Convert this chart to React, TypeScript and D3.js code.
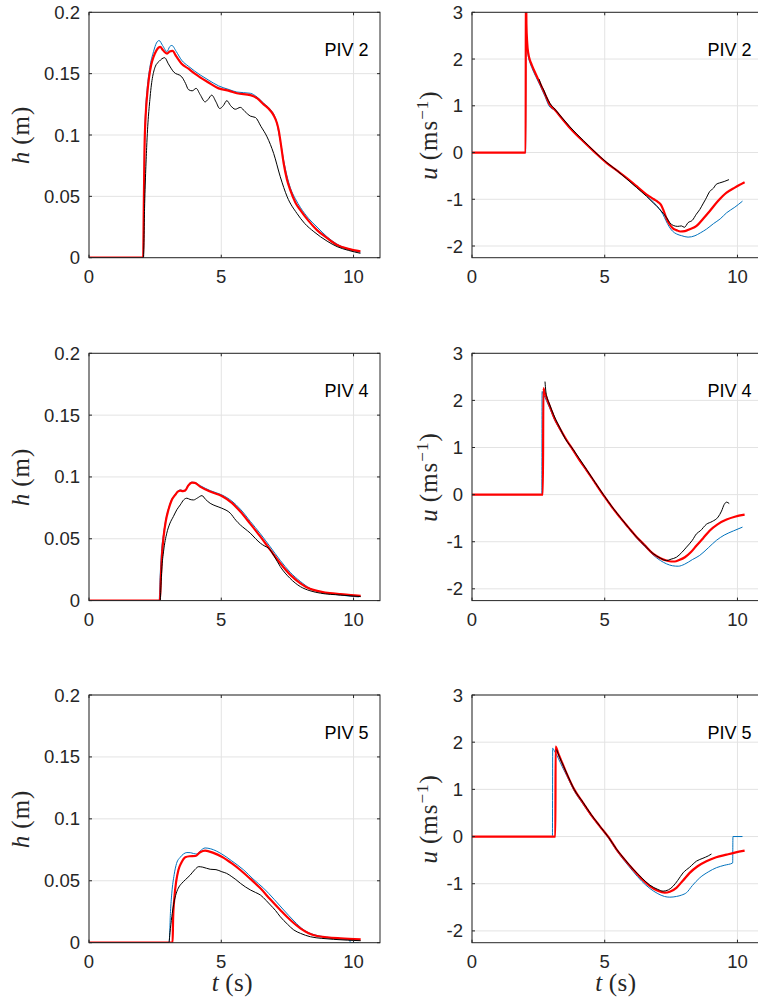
import React from "react";
import * as d3 from "d3";

type P = [number, number];

// ---------- data: PIV 2 ----------
const h2Red: P[] = [[0,0],[2.05,0],[2.07,0.04],[2.1,0.09],[2.14,0.115],[2.2,0.133],[2.27,0.147],[2.35,0.157],[2.44,0.1636],[2.55,0.169],[2.69,0.1718],[2.8,0.169],[2.95,0.1664],[3.05,0.168],[3.16,0.1685],[3.3,0.164],[3.5,0.158],[3.76,0.154],[4.0,0.15],[4.2,0.147],[4.5,0.143],[4.9,0.138],[5.3,0.136],[5.59,0.134],[6.1,0.1325],[6.35,0.13],[6.6,0.125],[6.85,0.12],[6.98,0.116],[7.1,0.11],[7.17,0.104],[7.25,0.093],[7.36,0.0768],[7.48,0.064],[7.61,0.055],[7.8,0.045],[7.99,0.0388],[8.3,0.03],[8.62,0.0225],[9.0,0.016],[9.38,0.0103],[9.8,0.0072],[10.26,0.0052]];
const h2Blue: P[] = [[0,0],[2.05,0],[2.07,0.045],[2.1,0.095],[2.14,0.12],[2.2,0.138],[2.3,0.155],[2.44,0.168],[2.55,0.175],[2.65,0.177],[2.78,0.173],[2.95,0.168],[3.05,0.172],[3.13,0.173],[3.3,0.168],[3.5,0.161],[3.76,0.156],[4.0,0.152],[4.2,0.149],[4.5,0.145],[4.9,0.14],[5.3,0.137],[5.59,0.135],[6.1,0.134],[6.35,0.131],[6.6,0.126],[6.85,0.121],[6.98,0.117],[7.1,0.11],[7.17,0.102],[7.25,0.093],[7.36,0.079],[7.48,0.067],[7.61,0.057],[7.8,0.048],[7.99,0.041],[8.3,0.032],[8.62,0.025],[9.0,0.017],[9.38,0.011],[9.8,0.007],[10.26,0.0045]];
const h2Black: P[] = [[0,0],[2.06,0],[2.1,0.04],[2.18,0.09],[2.31,0.131],[2.5,0.1555],[2.65,0.16],[2.86,0.163],[3.0,0.158],[3.2,0.1514],[3.51,0.1473],[3.65,0.142],[3.76,0.137],[3.9,0.136],[4.05,0.138],[4.2,0.133],[4.39,0.127],[4.5,0.129],[4.64,0.1325],[4.8,0.127],[4.94,0.1216],[5.08,0.124],[5.21,0.128],[5.35,0.124],[5.53,0.121],[5.72,0.1225],[5.9,0.119],[6.1,0.1154],[6.29,0.1143],[6.5,0.107],[6.73,0.0985],[6.98,0.085],[7.23,0.066],[7.49,0.0497],[7.86,0.0361],[8.15,0.028],[8.5,0.0212],[9.0,0.0135],[9.38,0.009],[9.8,0.006],[10.26,0.0036]];
const u2Red: P[] = [[0,0],[2.02,0],[2.03,4],[2.05,2.75],[2.08,2.34],[2.12,2.125],[2.18,1.98],[2.25,1.876],[2.4,1.68],[2.56,1.486],[2.75,1.25],[2.94,1.02],[3.12,0.916],[3.4,0.72],[3.69,0.526],[4.19,0.24],[4.6,0.02],[5.07,-0.22],[5.45,-0.38],[5.82,-0.54],[6.2,-0.72],[6.58,-0.9],[6.85,-1.0],[7.01,-1.06],[7.12,-1.12],[7.2,-1.217],[7.32,-1.4],[7.45,-1.54],[7.58,-1.63],[7.7,-1.66],[7.85,-1.69],[8.02,-1.68],[8.2,-1.64],[8.46,-1.57],[8.7,-1.42],[8.96,-1.25],[9.25,-1.05],[9.59,-0.86],[9.9,-0.75],[10.27,-0.635]];
const u2Blue: P[] = [[0,0],[2.02,0],[2.03,4],[2.05,2.65],[2.08,2.25],[2.12,2.06],[2.18,1.93],[2.25,1.82],[2.4,1.63],[2.56,1.44],[2.75,1.2],[2.9,1.0],[3.12,0.9],[3.4,0.71],[3.69,0.52],[4.19,0.235],[4.6,0.015],[5.07,-0.22],[5.45,-0.39],[5.82,-0.55],[6.2,-0.73],[6.58,-0.92],[6.85,-1.07],[7.05,-1.2],[7.2,-1.33],[7.3,-1.45],[7.42,-1.58],[7.55,-1.68],[7.7,-1.74],[7.9,-1.78],[8.14,-1.81],[8.4,-1.78],[8.6,-1.72],[8.83,-1.64],[9.1,-1.52],[9.35,-1.42],[9.59,-1.29],[9.9,-1.17],[10.19,-1.04]];
const u2Black: P[] = [[2.53,1.57],[2.6,1.45],[2.7,1.34],[2.8,1.2],[2.94,1.05],[3.12,0.93],[3.4,0.74],[3.69,0.55],[4.19,0.26],[4.6,0.03],[5.07,-0.21],[5.45,-0.38],[5.82,-0.56],[6.2,-0.75],[6.58,-0.94],[6.85,-1.09],[7.05,-1.2],[7.2,-1.3],[7.33,-1.39],[7.45,-1.5],[7.58,-1.56],[7.75,-1.58],[7.89,-1.57],[8.0,-1.6],[8.14,-1.5],[8.3,-1.45],[8.45,-1.32],[8.58,-1.22],[8.7,-1.1],[8.8,-1.0],[8.96,-0.83],[9.1,-0.76],[9.2,-0.68],[9.33,-0.65],[9.5,-0.62],[9.68,-0.58]];

// ---------- data: PIV 4 ----------
const h4Red: P[] = [[0,0],[2.68,0],[2.72,0.02],[2.77,0.04],[2.82,0.0517],[2.9,0.064],[3.0,0.0733],[3.12,0.081],[3.26,0.0855],[3.35,0.088],[3.45,0.089],[3.55,0.0885],[3.64,0.089],[3.75,0.093],[3.89,0.0954],[4.0,0.0952],[4.2,0.0922],[4.6,0.088],[5.02,0.0846],[5.4,0.079],[5.72,0.072],[6.1,0.062],[6.48,0.0517],[6.85,0.041],[7.23,0.0302],[7.6,0.021],[7.99,0.014],[8.35,0.0095],[8.75,0.0073],[9.1,0.006],[9.51,0.0052],[9.9,0.0045],[10.27,0.0038]];
const h4Blue: P[] = [[0,0],[2.65,0],[2.69,0.02],[2.75,0.042],[2.82,0.054],[2.9,0.065],[3.0,0.074],[3.12,0.0815],[3.26,0.086],[3.35,0.0885],[3.45,0.0895],[3.55,0.089],[3.64,0.0895],[3.75,0.0935],[3.89,0.0958],[4.0,0.0955],[4.2,0.093],[4.6,0.0888],[5.02,0.0855],[5.4,0.0805],[5.72,0.074],[6.1,0.064],[6.48,0.054],[6.85,0.0435],[7.23,0.0325],[7.6,0.023],[7.99,0.0155],[8.35,0.01],[8.75,0.007],[9.1,0.0055],[9.51,0.0045],[9.9,0.0035],[10.2,0.003]];
const h4Black: P[] = [[0,0],[2.69,0],[2.72,0.012],[2.75,0.0248],[2.82,0.04],[2.94,0.0545],[3.05,0.062],[3.19,0.068],[3.32,0.0735],[3.45,0.0774],[3.58,0.0815],[3.7,0.0828],[3.82,0.0818],[3.95,0.0814],[4.1,0.083],[4.27,0.0849],[4.4,0.082],[4.58,0.0787],[4.8,0.0765],[5.02,0.0747],[5.34,0.0707],[5.55,0.065],[5.72,0.0612],[5.9,0.058],[6.1,0.0545],[6.3,0.05],[6.48,0.0464],[6.65,0.044],[6.79,0.0424],[7.0,0.036],[7.23,0.0275],[7.6,0.018],[7.99,0.0113],[8.35,0.008],[8.75,0.006],[9.5,0.0045],[10.27,0.0032]];
const u4Red: P[] = [[0,0],[2.67,0],[2.69,2.26],[2.72,2.2],[2.8,2.07],[2.94,1.864],[3.1,1.63],[3.31,1.404],[3.55,1.17],[3.81,0.943],[4.05,0.73],[4.32,0.517],[4.65,0.24],[5.0,-0.05],[5.28,-0.27],[5.57,-0.477],[5.9,-0.7],[6.2,-0.9],[6.5,-1.07],[6.82,-1.255],[7.1,-1.35],[7.33,-1.4],[7.5,-1.42],[7.64,-1.42],[7.8,-1.39],[8.02,-1.33],[8.25,-1.22],[8.46,-1.08],[8.7,-0.93],[8.96,-0.76],[9.25,-0.63],[9.59,-0.53],[9.9,-0.47],[10.27,-0.426]];
const u4Blue: P[] = [[0,0],[2.63,0],[2.64,2.19],[2.7,2.12],[2.8,2.0],[2.94,1.82],[3.1,1.6],[3.31,1.38],[3.55,1.15],[3.81,0.93],[4.05,0.72],[4.32,0.5],[4.65,0.23],[5.0,-0.06],[5.28,-0.28],[5.57,-0.49],[5.9,-0.72],[6.2,-0.92],[6.5,-1.1],[6.82,-1.28],[7.1,-1.4],[7.33,-1.47],[7.55,-1.51],[7.77,-1.52],[8.0,-1.48],[8.3,-1.38],[8.58,-1.29],[8.9,-1.13],[9.21,-0.97],[9.5,-0.86],[9.85,-0.77],[10.19,-0.69]];
const u4Black: P[] = [[2.75,2.4],[2.78,2.2],[2.82,2.08],[2.9,1.95],[3.0,1.8],[3.15,1.6],[3.31,1.42],[3.5,1.2],[3.81,0.96],[4.05,0.76],[4.32,0.53],[4.65,0.25],[5.0,-0.04],[5.28,-0.26],[5.57,-0.47],[5.9,-0.7],[6.2,-0.9],[6.5,-1.07],[6.82,-1.25],[7.1,-1.35],[7.33,-1.4],[7.5,-1.37],[7.7,-1.33],[7.9,-1.23],[8.08,-1.115],[8.3,-0.97],[8.46,-0.83],[8.6,-0.77],[8.83,-0.63],[9.05,-0.57],[9.27,-0.477],[9.4,-0.35],[9.5,-0.21],[9.59,-0.16],[9.69,-0.19]];

// ---------- data: PIV 5 ----------
const h5Red: P[] = [[0,0],[3.16,0],[3.18,0.02],[3.22,0.0345],[3.3,0.05],[3.38,0.0587],[3.5,0.065],[3.64,0.069],[3.8,0.0698],[4.02,0.07],[4.2,0.073],[4.39,0.0743],[4.7,0.0725],[5.02,0.0694],[5.4,0.064],[5.72,0.0587],[6.1,0.0515],[6.48,0.0439],[6.85,0.035],[7.23,0.0264],[7.6,0.0185],[7.99,0.0116],[8.3,0.0077],[8.62,0.0054],[9.0,0.0043],[9.51,0.0035],[10.27,0.0027]];
const h5Blue: P[] = [[0,0],[3.03,0],[3.08,0.025],[3.13,0.04],[3.22,0.055],[3.31,0.064],[3.45,0.069],[3.57,0.0716],[3.7,0.0728],[3.83,0.0727],[3.95,0.072],[4.08,0.0716],[4.2,0.074],[4.39,0.0765],[4.6,0.0758],[5.02,0.0716],[5.4,0.066],[5.85,0.0587],[6.2,0.0515],[6.6,0.044],[7.0,0.035],[7.36,0.0264],[7.75,0.0175],[8.12,0.0103],[8.5,0.0065],[8.88,0.0048],[9.3,0.0035],[9.85,0.0025],[9.88,0],[10.2,0]];
const h5Black: P[] = [[0,0],[3.02,0],[3.06,0.008],[3.13,0.021],[3.2,0.031],[3.3,0.04],[3.4,0.045],[3.51,0.048],[3.65,0.051],[3.83,0.0547],[4.0,0.059],[4.15,0.0614],[4.3,0.061],[4.58,0.0593],[4.8,0.059],[5.02,0.0573],[5.2,0.056],[5.4,0.0533],[5.55,0.051],[5.72,0.048],[6.1,0.0426],[6.3,0.0405],[6.48,0.0385],[6.7,0.034],[6.86,0.0304],[7.05,0.026],[7.23,0.021],[7.5,0.015],[7.74,0.0103],[8.0,0.0075],[8.37,0.0048],[8.8,0.0035],[9.25,0.0027],[10.27,0.0016]];
const u5Red: P[] = [[0,0],[3.14,0],[3.15,1.907],[3.25,1.76],[3.4,1.56],[3.56,1.345],[3.85,1.0],[4.19,0.71],[4.5,0.45],[4.82,0.217],[5.15,-0.02],[5.45,-0.276],[5.75,-0.49],[6.07,-0.7],[6.4,-0.9],[6.7,-1.05],[7.0,-1.15],[7.26,-1.19],[7.45,-1.17],[7.7,-1.087],[7.95,-0.93],[8.2,-0.77],[8.5,-0.63],[8.83,-0.524],[9.2,-0.44],[9.59,-0.383],[9.9,-0.34],[10.27,-0.298]];
const u5Blue: P[] = [[0,0],[3.03,0],[3.04,1.87],[3.1,1.82],[3.25,1.66],[3.4,1.48],[3.56,1.3],[3.85,0.97],[4.19,0.68],[4.5,0.43],[4.82,0.2],[5.15,-0.04],[5.45,-0.3],[5.75,-0.52],[6.07,-0.74],[6.4,-0.95],[6.7,-1.1],[7.0,-1.21],[7.25,-1.27],[7.45,-1.285],[7.7,-1.27],[7.9,-1.24],[8.08,-1.19],[8.3,-1.04],[8.58,-0.875],[8.9,-0.75],[9.21,-0.66],[9.5,-0.61],[9.82,-0.56],[9.83,0],[10.19,0]];
const u5Black: P[] = [[3.19,1.84],[3.3,1.68],[3.45,1.49],[3.6,1.3],[3.85,1.0],[4.19,0.72],[4.5,0.46],[4.82,0.22],[5.15,-0.02],[5.45,-0.27],[5.75,-0.48],[6.07,-0.69],[6.4,-0.88],[6.7,-1.03],[7.0,-1.12],[7.2,-1.157],[7.4,-1.13],[7.58,-1.05],[7.75,-0.93],[7.95,-0.77],[8.2,-0.65],[8.46,-0.52],[8.7,-0.46],[8.9,-0.41],[9.02,-0.37]];

// ---------- ticks & labels ----------
const xTicks = [0, 5, 10];
const xTickLabels = ["0", "5", "10"];
const hTicks = [0, 0.05, 0.1, 0.15, 0.2];
const hTickLabels = ["0", "0.05", "0.1", "0.15", "0.2"];
const uTicks = [-2, -1, 0, 1, 2, 3];
const uTickLabels = ["-2", "-1", "0", "1", "2", "3"];
const pivNames = ["PIV 2", "PIV 4", "PIV 5"];

const rows = [
  { top: 12.3, h: 245.4, hSeries: [h2Blue, h2Red, h2Black], uSeries: [u2Blue, u2Red, u2Black] },
  { top: 353.3, h: 247.3, hSeries: [h4Blue, h4Red, h4Black], uSeries: [u4Blue, u4Red, u4Black] },
  { top: 695, h: 247.7, hSeries: [h5Blue, h5Red, h5Black], uSeries: [u5Blue, u5Red, u5Black] },
];
const cols = [
  { x0: 89, w: 291, domain: [0, 0.2], ticks: hTicks, labels: hTickLabels, key: "h" },
  { x0: 472, w: 292, domain: [-2.25, 3], ticks: uTicks, labels: uTickLabels, key: "u" },
];
const seriesStyle = [
  { color: "#0072BD", width: 1 },
  { color: "#FF0000", width: 2.2 },
  { color: "#000000", width: 1 },
];
const AX = "#262626";
const GRID = "#e3e3e3";
const SANS = "'Liberation Sans', Arial, Helvetica, sans-serif";
const SERIF = "'Liberation Serif', 'Times New Roman', serif";
const TICK_FS = 18.5;
const LABEL_FS = 25;

function Panel({ r, c, ri, ci }: any) {
  const x = d3.scaleLinear().domain([0, 11]).range([c.x0, c.x0 + c.w]);
  const y = d3.scaleLinear().domain(c.domain).range([r.top + r.h, r.top]);
  const line = d3.line<P>().x(d => x(d[0])).y(d => y(d[1])).curve(d3.curveMonotoneX);
  const series = ci === 0 ? r.hSeries : r.uSeries;
  const clipId = `clip-${ri}-${ci}`;
  const x1 = c.x0 + c.w;
  const yb = r.top + r.h;
  const tl = 3;
  return (
    <g>
      <defs>
        <clipPath id={clipId}>
          <rect x={c.x0} y={r.top} width={c.w} height={r.h} />
        </clipPath>
      </defs>
      <rect x={c.x0} y={r.top} width={c.w} height={r.h} fill="#fff" />
      {xTicks.map(t => (
        <line key={"gx" + t} x1={x(t)} x2={x(t)} y1={r.top} y2={yb} stroke={GRID} strokeWidth={1} />
      ))}
      {c.ticks.map((t: number) => (
        <line key={"gy" + t} x1={c.x0} x2={x1} y1={y(t)} y2={y(t)} stroke={GRID} strokeWidth={1} />
      ))}
      <g clipPath={`url(#${clipId})`}>
        {series.map((s: P[], i: number) => (
          <path key={i} d={line(s) || ""} fill="none" stroke={seriesStyle[i].color}
            strokeWidth={seriesStyle[i].width} strokeLinejoin="round" />
        ))}
      </g>
      {xTicks.map(t => (
        <g key={"tx" + t}>
          <line x1={x(t)} x2={x(t)} y1={yb} y2={yb - tl} stroke={AX} />
          <line x1={x(t)} x2={x(t)} y1={r.top} y2={r.top + tl} stroke={AX} />
        </g>
      ))}
      {c.ticks.map((t: number) => (
        <g key={"ty" + t}>
          <line x1={c.x0} x2={c.x0 + tl} y1={y(t)} y2={y(t)} stroke={AX} />
          <line x1={x1} x2={x1 - tl} y1={y(t)} y2={y(t)} stroke={AX} />
        </g>
      ))}
      <rect x={c.x0} y={r.top} width={c.w} height={r.h} fill="none" stroke={AX} strokeWidth={1} />
      {xTicks.map((t, i) => (
        <text key={"lx" + t} x={x(t)} y={yb + 25.5} textAnchor="middle" fontFamily={SANS} fontSize={TICK_FS} fill={AX}>
          {xTickLabels[i]}
        </text>
      ))}
      {c.ticks.map((t: number, i: number) => (
        <text key={"ly" + t} x={c.x0 - 9} y={y(t) + 6.5} textAnchor="end" fontFamily={SANS} fontSize={TICK_FS} fill={AX}>
          {c.labels[i]}
        </text>
      ))}
      <text x={c.x0 + 279.5} y={r.top + 43.5} textAnchor="end" fontFamily={SANS} fontSize={18} fill="#000">
        {pivNames[ri]}
      </text>
      {ci === 0 ? (
        <text transform={`translate(29,${r.top + r.h / 2}) rotate(-90)`} textAnchor="middle"
          fontFamily={SERIF} fontSize={LABEL_FS} fill={AX} letterSpacing={1}>
          <tspan fontStyle="italic">h</tspan>
          <tspan dx={6}>(m)</tspan>
        </text>
      ) : (
        <text transform={`translate(437,${r.top + r.h / 2}) rotate(-90)`} textAnchor="middle"
          fontFamily={SERIF} fontSize={LABEL_FS} fill={AX} letterSpacing={1}>
          <tspan fontStyle="italic">u</tspan>
          <tspan dx={6}>(ms</tspan>
          <tspan fontSize={17} dy={-9}>−1</tspan>
          <tspan dy={9}>)</tspan>
        </text>
      )}
      {ri === 2 && (
        <text x={c.x0 + c.w / 2 - 2} y={991} textAnchor="middle" fontFamily={SERIF} fontSize={LABEL_FS} fill={AX} letterSpacing={0.5}>
          <tspan fontStyle="italic">t</tspan>
          <tspan dx={6}>(s)</tspan>
        </text>
      )}
    </g>
  );
}

export default function App() {
  return (
    <svg width={758} height={1001} style={{ position: "absolute", left: 0, top: 0, display: "block" }}>
      <rect x={0} y={0} width={758} height={1001} fill="#fff" />
      {rows.map((r, ri) =>
        cols.map((c, ci) => <Panel key={`${ri}-${ci}`} r={r} c={c} ri={ri} ci={ci} />)
      )}
    </svg>
  );
}
